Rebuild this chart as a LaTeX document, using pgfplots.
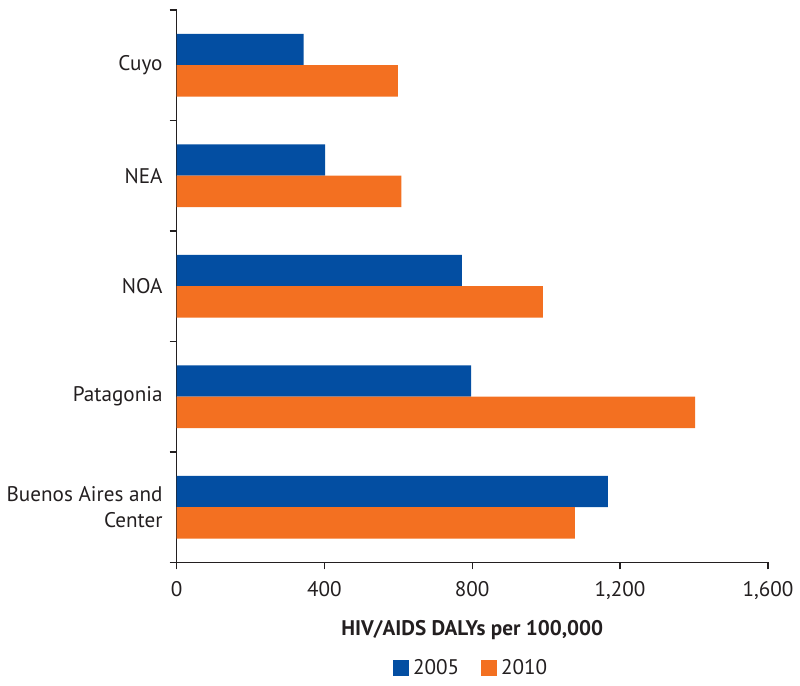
\documentclass[border=0pt]{standalone}
\usepackage{fontspec}
\setmainfont{PT Sans}
\usepackage{pgfplots}
\pgfplotsset{compat=1.18}
\definecolor{cblue}{RGB}{3,78,162}
\definecolor{corange}{RGB}{243,112,33}
\definecolor{ctext}{RGB}{35,31,32}
\newcommand{\lbl}{\fontsize{10.6}{13}\selectfont}
\begin{document}
\begin{tikzpicture}[x=1pt,y=1pt]
\begin{axis}[
  scale only axis,
  width=296.5pt, height=277pt,
  xmin=0, xmax=1600, ymin=-0.5, ymax=4.5,
  axis x line*=bottom, axis y line*=left,
  axis line style={ctext, line width=0.6pt},
  xbar, bar width=0.284,
  xtick={0,400,800,1200,1600},
  xticklabels={0,400,800,{1,200},{1,600}},
  ytick={0,1,2,3,4},
  yticklabels={{Buenos Aires and\\Center},Patagonia,NOA,NEA,Cuyo},
  minor ytick={-0.5,0.5,1.5,2.5,3.5,4.5},
  tick align=outside,
  major tick length=3.5pt, minor tick length=3.5pt,
  tick style={ctext, line width=0.6pt},
  major y tick style={draw=none},
  minor y tick style={ctext, line width=0.6pt},
  every tick label/.append style={font=\lbl, text=ctext},
  yticklabel style={align=right},
  xticklabel style={yshift=-2.5pt},
  xlabel={\textbf{HIV/AIDS DALYs per 100,000}},
  xlabel style={at={(axis description cs:0.5,-0.1227)}, anchor=center, font=\lbl, text=ctext},
  legend style={at={(0.5,-0.1913)}, anchor=center, draw=none, font=\lbl, text=ctext,
    legend columns=2, /tikz/every even column/.append style={column sep=9pt}},
  legend image code/.code={\fill[#1] (0pt,-4pt) rectangle (8pt,4pt);},
]
\addplot[fill=cblue, draw=none, bar shift=0.142] coordinates {(344,4) (402,3) (772,2) (797,1) (1167,0)};
\addplot[fill=corange, draw=none, bar shift=-0.142] coordinates {(599,4) (608,3) (991,2) (1403,1) (1078,0)};
\legend{2005,2010}
\end{axis}
\path (current axis.south west) ++(-88.5,-58.5) rectangle ++(400,340.5);
\end{tikzpicture}
\end{document}
